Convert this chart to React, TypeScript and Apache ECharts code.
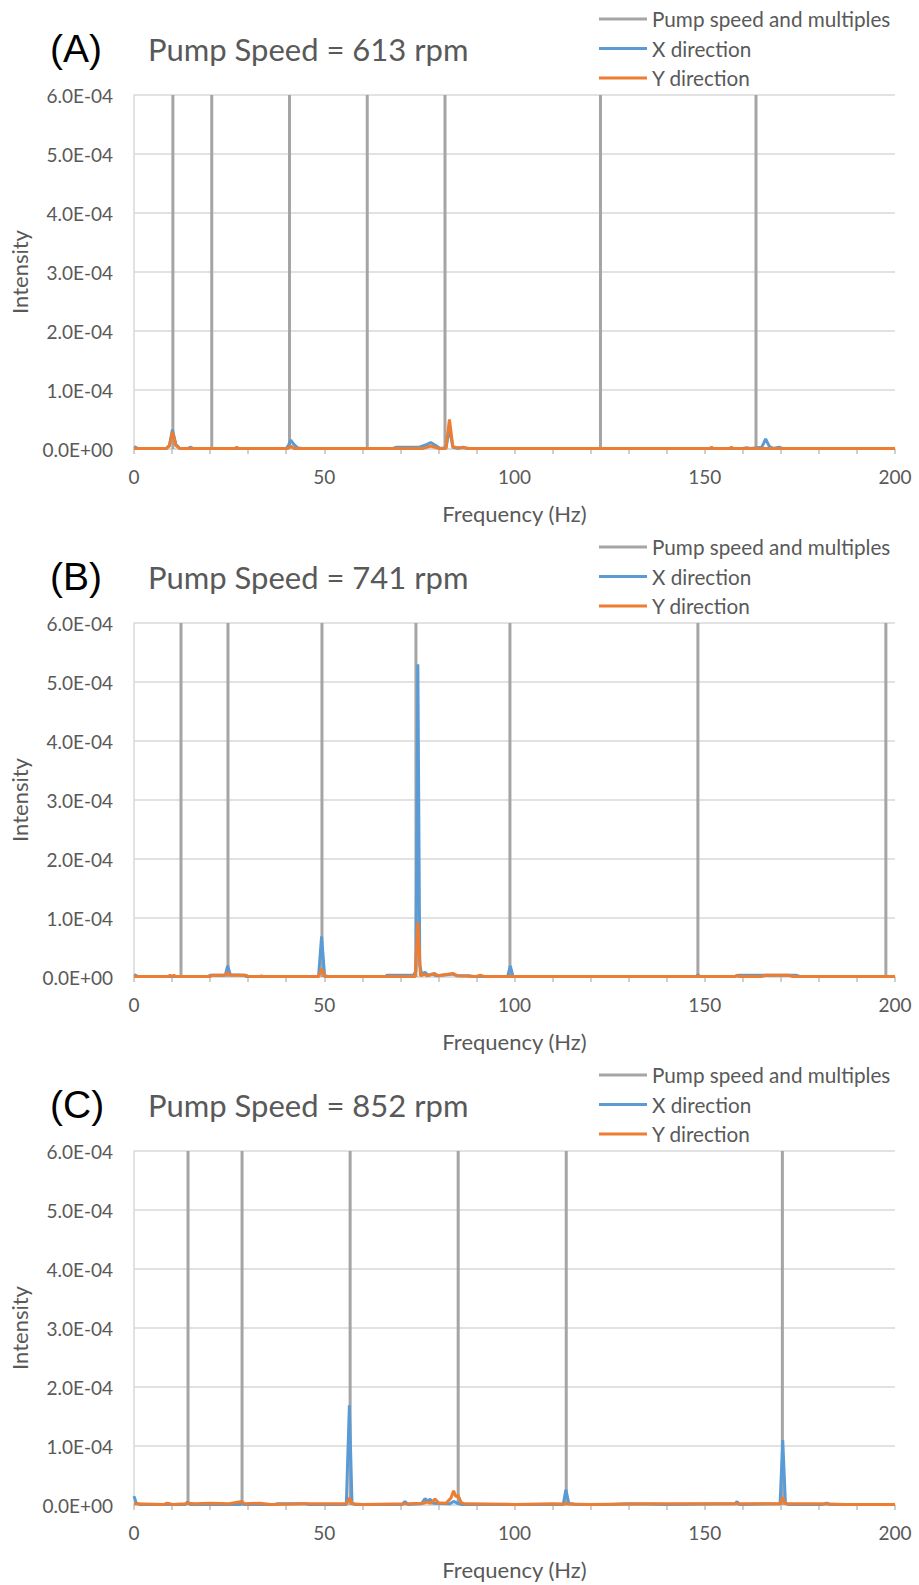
import React, { useEffect, useRef } from 'react';
import * as echarts from 'echarts';

// ---------- data ----------
const panelLabels = ['(A)', '(B)', '(C)'];
const pumpSpeedsRpm = [613, 741, 852];
const speedMultiples = [1, 2, 4, 6, 8, 12, 16];
const seriesNames = ['Pump speed and multiples', 'X direction', 'Y direction'];
const xAxisTitle = 'Frequency (Hz)';
const yAxisTitle = 'Intensity';
const freqMin = 0;
const freqMax = 200;
const freqStep = 50;
const intensityMax = 6e-4;
const intensityStep = 1e-4;

// Panel A (613 rpm) spectra: [frequency Hz, intensity]
const aX: number[][] = [
  [0, 4e-6], [1, 1e-6], [8.5, 1e-6], [9.3, 6e-6], [10.1, 3.3e-5], [11, 8e-6], [12, 1e-6],
  [14.2, 1e-6], [14.8, 3e-6], [15.5, 1e-6], [40, 1e-6], [40.5, 5e-6], [41.2, 1.5e-5],
  [42, 8e-6], [43, 2e-6], [44, 1e-6], [68, 1e-6], [69, 3e-6], [75, 3e-6], [77, 8e-6],
  [78, 1.1e-5], [79.5, 5e-6], [80.5, 1e-6], [82, 2e-6], [82.9, 3.5e-5], [83.8, 3e-6],
  [85, 1e-6], [86.5, 3e-6], [87.5, 1e-6], [150, 1e-6], [160, 1e-6], [161, 2e-6], [162, 1e-6],
  [165, 3e-6], [166, 1.7e-5], [167, 4e-6], [168, 1e-6], [169.5, 3e-6], [170.5, 1e-6], [200, 1e-6],
];
const aY: number[][] = [
  [0, 1e-6], [8.5, 1e-6], [9.3, 5e-6], [10.1, 2.9e-5], [11, 6e-6], [12, 1e-6], [26.5, 1e-6],
  [27, 3e-6], [27.5, 1e-6], [40.5, 1e-6], [41.2, 5e-6], [42, 1e-6], [76, 1e-6], [78, 5e-6],
  [80, 1e-6], [82, 1e-6], [82.9, 5e-5], [83.8, 4e-6], [85, 2e-6], [87, 2e-6], [88, 1e-6],
  [151.3, 1e-6], [151.8, 3e-6], [152.3, 1e-6], [156.5, 1e-6], [157, 3e-6], [157.5, 1e-6], [200, 1e-6],
];

// Panel B (741 rpm)
const bX: number[][] = [
  [0, 4e-6], [1, 1e-6], [19.5, 1e-6], [20, 3e-6], [24, 3e-6], [24.6, 1.9e-5], [25.3, 4e-6],
  [29, 3e-6], [29.5, 1e-6], [48.5, 1e-6], [49.3, 6.9e-5], [50.1, 2e-6], [51, 1e-6], [66, 1e-6],
  [66.5, 3e-6], [73.5, 3e-6], [74.1, 1e-5], [74.6, 5.3e-4], [75.1, 2e-5], [75.6, 5e-6],
  [76.5, 8e-6], [77.3, 3e-6], [78.5, 5e-6], [79.5, 2e-6], [83.9, 5e-6], [85, 2e-6], [88, 2e-6],
  [89, 1e-6], [98.2, 1e-6], [98.9, 1.9e-5], [99.6, 1e-6], [147.8, 1e-6], [148.2, 4e-6],
  [148.6, 1e-6], [158, 1e-6], [159, 3e-6], [174, 3e-6], [175, 1e-6], [200, 1e-6],
];
const bY: number[][] = [
  [0, 1e-6], [9, 1e-6], [9.5, 3e-6], [10, 1e-6], [10.5, 3e-6], [11, 1e-6], [20, 1e-6],
  [20.5, 3e-6], [24, 3e-6], [24.6, 8e-6], [25.3, 3e-6], [29.5, 3e-6], [30, 1e-6], [33, 1e-6],
  [33.5, 2e-6], [34, 1e-6], [48.5, 1e-6], [49.3, 1.4e-5], [50.1, 1e-6], [73.9, 1e-6],
  [74.6, 9.3e-5], [75.3, 2e-6], [76.3, 5e-6], [77, 2e-6], [79, 6e-6], [80, 2e-6], [83.9, 6e-6],
  [85, 2e-6], [90, 1e-6], [91, 3e-6], [92, 1e-6], [158, 1e-6], [158.5, 3e-6], [159, 1e-6],
  [165, 1e-6], [166, 3e-6], [172, 3e-6], [173, 1e-6], [200, 1e-6],
];

// Panel C (852 rpm)
const cX: number[][] = [
  [0, 1.5e-5], [0.6, 3e-6], [1.5, 1e-6], [13.5, 1e-6], [14.1, 5e-6], [14.7, 1e-6], [28, 1e-6],
  [28.3, 3e-6], [28.8, 1e-6], [37, 1e-6], [37.5, 2e-6], [45, 2e-6], [46, 1e-6], [55.8, 1e-6],
  [56.6, 1.69e-4], [57.3, 3e-6], [58, 1e-6], [70.5, 1e-6], [71.2, 6e-6], [72, 1e-6],
  [75.5, 2e-6], [76.5, 1.1e-5], [77.2, 6e-6], [77.8, 1e-5], [78.6, 3e-6], [83, 2e-6], [84, 6e-6],
  [85, 3e-6], [86, 1e-6], [112.8, 1e-6], [113.5, 2.6e-5], [114.3, 2e-6], [115, 2e-6], [116, 1e-6],
  [125, 1e-6], [130, 2e-6], [140, 1e-6], [158, 2e-6], [158.5, 6e-6], [159, 1e-6], [169.8, 2e-6],
  [170.5, 1.1e-4], [171.2, 3e-6], [172, 1e-6], [181, 1e-6], [182, 3e-6], [183, 1e-6], [200, 1e-6],
];
const cY: number[][] = [
  [0, 2e-6], [8, 1e-6], [8.5, 3e-6], [9.5, 2e-6], [10, 1e-6], [13.5, 2e-6], [14.1, 3e-6],
  [16, 2e-6], [20, 3e-6], [25, 2e-6], [28.3, 6e-6], [29, 2e-6], [33, 3e-6], [36, 1e-6],
  [45, 2e-6], [50, 2e-6], [55.9, 2e-6], [56.6, 1.2e-5], [57.3, 2e-6], [60, 1e-6], [72, 2e-6],
  [76, 3e-6], [77, 5e-6], [78, 3e-6], [79.1, 1e-5], [80, 4e-6], [82, 3e-6], [83.3, 1.2e-5],
  [84, 2.4e-5], [84.6, 1.4e-5], [85.2, 1.6e-5], [86, 4e-6], [87, 2e-6], [100, 1e-6], [110, 2e-6],
  [120, 1e-6], [135, 2e-6], [145, 2e-6], [155, 2e-6], [165, 2e-6], [169.9, 2e-6], [170.5, 1.3e-5],
  [171.1, 2e-6], [180, 2e-6], [187, 1e-6], [200, 1e-6],
];

const xSpectra = [aX, bX, cX];
const ySpectra = [aY, bY, cY];

// ---------- styles ----------
const FONT = 'Lato';
const TEXT = '#595959';
const GRID = '#D9D9D9';
const GRAY = '#A5A5A5';
const BLUE = '#5B9BD5';
const ORANGE = '#ED7D31';
const PANEL_OFFSET = 528;
const GRID_TOP = 95;
const GRID_H = 354;
const GRID_LEFT = 134;
const GRID_W = 761;

function sciLabel(v: number): string {
  const [m, e] = v.toExponential(1).split('e');
  const sign = e[0] === '-' ? '-' : '+';
  const digits = e.replace(/^[+-]/, '').padStart(2, '0');
  return m + 'E' + sign + digits;
}

export default function App() {
  const ref = useRef<HTMLDivElement>(null);
  useEffect(() => {
    if (!ref.current) return;
    const chart = echarts.init(ref.current, null, { renderer: 'svg' });
    const grids: any[] = [];
    const xAxes: any[] = [];
    const yAxes: any[] = [];
    const legends: any[] = [];
    const series: any[] = [];
    const graphics: any[] = [];

    pumpSpeedsRpm.forEach((rpm, i) => {
      const off = i * PANEL_OFFSET;
      grids.push({ left: GRID_LEFT, top: GRID_TOP + off, width: GRID_W, height: GRID_H });
      xAxes.push({
        type: 'value', gridIndex: i, min: freqMin, max: freqMax, interval: freqStep,
        name: xAxisTitle, nameLocation: 'middle', nameGap: 53,
        nameTextStyle: { fontFamily: FONT, fontSize: 22, color: TEXT },
        axisLine: { show: true, lineStyle: { color: GRID, width: 1.5 } },
        axisTick: { show: true, length: 5, lineStyle: { color: '#BFBFBF', width: 1.5 } },
        minorTick: { show: true, splitNumber: 5, length: 5, lineStyle: { color: '#BFBFBF', width: 1.5 } },
        splitLine: { show: false },
        axisLabel: { fontFamily: FONT, fontSize: 19, color: TEXT, margin: 18 },
      });
      yAxes.push({
        type: 'value', gridIndex: i, min: 0, max: intensityMax, interval: intensityStep,
        name: yAxisTitle, nameLocation: 'middle', nameGap: 104, nameRotate: 90,
        nameTextStyle: { fontFamily: FONT, fontSize: 22, color: TEXT },
        axisLine: { show: true, lineStyle: { color: GRID, width: 1.5 } },
        axisTick: { show: false },
        splitLine: { show: true, lineStyle: { color: GRID, width: 1.5 } },
        axisLabel: { fontFamily: FONT, fontSize: 19, color: TEXT, margin: 21, formatter: (v: number) => sciLabel(v) },
      });
      legends.push({
        orient: 'vertical', left: 594, top: 3.5 + off, itemWidth: 48, itemHeight: 3, itemGap: 8.5,
        icon: 'rect', selectedMode: false,
        textStyle: { fontFamily: FONT, fontSize: 20.7, color: TEXT, lineHeight: 20 },
        data: seriesNames,
      });
      const hz = rpm / 60;
      speedMultiples.forEach((k) => {
        const f = hz * k;
        if (f > freqMax) return;
        series.push({
          type: 'line', name: seriesNames[0], xAxisIndex: i, yAxisIndex: i, symbol: 'none',
          data: [[f, 0], [f, intensityMax]],
          lineStyle: { color: GRAY, width: 3 }, itemStyle: { color: GRAY }, silent: true,
        });
      });
      series.push({
        type: 'line', name: seriesNames[1], xAxisIndex: i, yAxisIndex: i, symbol: 'none',
        data: xSpectra[i], lineStyle: { color: BLUE, width: 3 }, itemStyle: { color: BLUE }, silent: true,
      });
      series.push({
        type: 'line', name: seriesNames[2], xAxisIndex: i, yAxisIndex: i, symbol: 'none',
        data: ySpectra[i], lineStyle: { color: ORANGE, width: 3 }, itemStyle: { color: ORANGE }, silent: true,
      });
      graphics.push({
        type: 'text', x: 50, y: 48.5 + off,
        style: { text: panelLabels[i], fontFamily: 'Liberation Sans', fontSize: 39, fill: '#000', textVerticalAlign: 'middle', textAlign: 'left' },
      });
      graphics.push({
        type: 'text', x: 148, y: 48.5 + off,
        style: { text: 'Pump Speed = ' + rpm + ' rpm', fontFamily: FONT, fontSize: 31, fill: TEXT, textVerticalAlign: 'middle', textAlign: 'left' },
      });
    });

    chart.setOption({
      animation: false,
      backgroundColor: '#fff',
      grid: grids,
      xAxis: xAxes,
      yAxis: yAxes,
      legend: legends,
      series,
      graphic: graphics,
    });
    return () => chart.dispose();
  }, []);
  return <div ref={ref} style={{ position: 'absolute', left: 0, top: 0, width: 919, height: 1585 }} />;
}
